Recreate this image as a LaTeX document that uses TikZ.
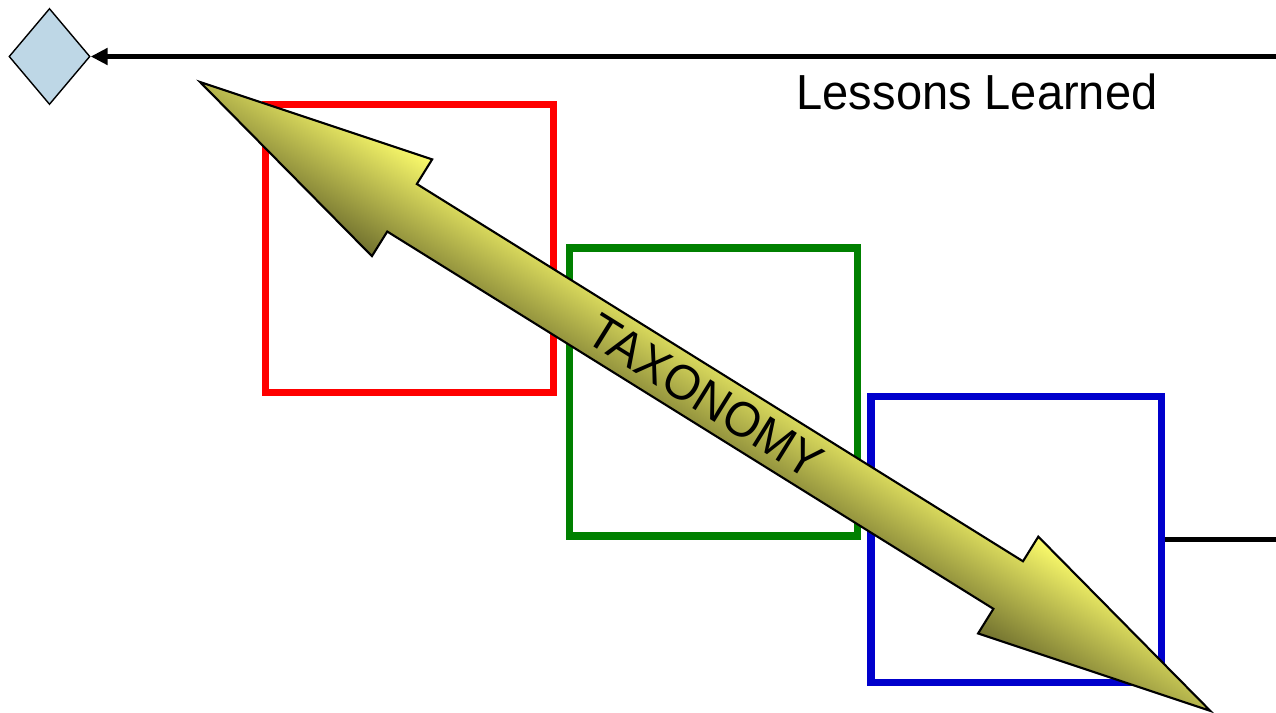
\documentclass[tikz,border=0pt]{standalone}
\usepackage{fontspec}
\setmainfont{Liberation Sans}
\usetikzlibrary{shapes.geometric,arrows.meta}

\definecolor{decfill}{RGB}{190,215,230}
\definecolor{boxred}{RGB}{255,0,0}
\definecolor{boxgreen}{RGB}{0,128,0}
\definecolor{boxblue}{RGB}{0,0,204}
\definecolor{arrowlight}{RGB}{252,252,108}
\definecolor{arrowmid}{RGB}{212,212,88}
\definecolor{arrowdark}{RGB}{112,112,46}

\begin{document}
\begin{tikzpicture}[x=0.01cm,y=-0.01cm,
  stagebox/.style={draw, line width=2.13pt, inner sep=0pt, fill=none},
  decision/.style={diamond, draw, line width=0.4pt, fill=decfill, inner sep=0pt,
                   minimum width=0.81cm, minimum height=0.96cm},
  flowline/.style={line width=1.42pt},
  bigarrow/.style={draw=black, line width=0.6pt, line join=miter,
                   top color=arrowlight, middle color=arrowmid, bottom color=arrowdark},
  label/.style={inner sep=0pt, font=\fontsize{14}{16}\selectfont}]

% canvas
\fill[white] (0,0) rectangle (1276,712);
\useasboundingbox (0,0) rectangle (1276,712);

% the three stages
\node[stagebox, draw=boxred,   minimum width=2.88cm, minimum height=2.88cm] (red)   at (409.4,248.5) {};
\node[stagebox, draw=boxgreen, minimum width=2.88cm, minimum height=2.875cm] (green) at (713.4,392) {};
\node[stagebox, draw=boxblue,  minimum width=2.90cm, minimum height=2.86cm] (blue)  at (1016.2,539.4) {};

% decision point and feedback line
\node[decision] (dec) at (49.5,56.5) {};
\coordinate (topend) at (1280,56.5);
\draw[flowline, -{Triangle[length=4.8pt,width=4.6pt]}] (topend) -- (dec.east);

\node[label, anchor=base west] (lessons) at (796,109)
  {\scalebox{0.955}[1]{Lessons Learned}};

% outgoing line from the last stage
\coordinate (botend) at (1280,539.4);
\draw[flowline] (blue.east) -- (botend);

% double-headed taxonomy arrow, drawn along its own axis
\begin{scope}[transform canvas={shift={(200,82)}, rotate=-31.9}]
  \shade[bigarrow] (0,0) -- (238,-57) -- (238,-28) -- (952,-28) -- (952,-57) -- (1190,0)
    -- (952,57) -- (952,28) -- (238,28) -- (238,57) -- cycle;
  \node[label] (tax) at (595,0) {\scalebox{0.955}[1]{TAXONOMY}};
\end{scope}

\end{tikzpicture}
\end{document}
